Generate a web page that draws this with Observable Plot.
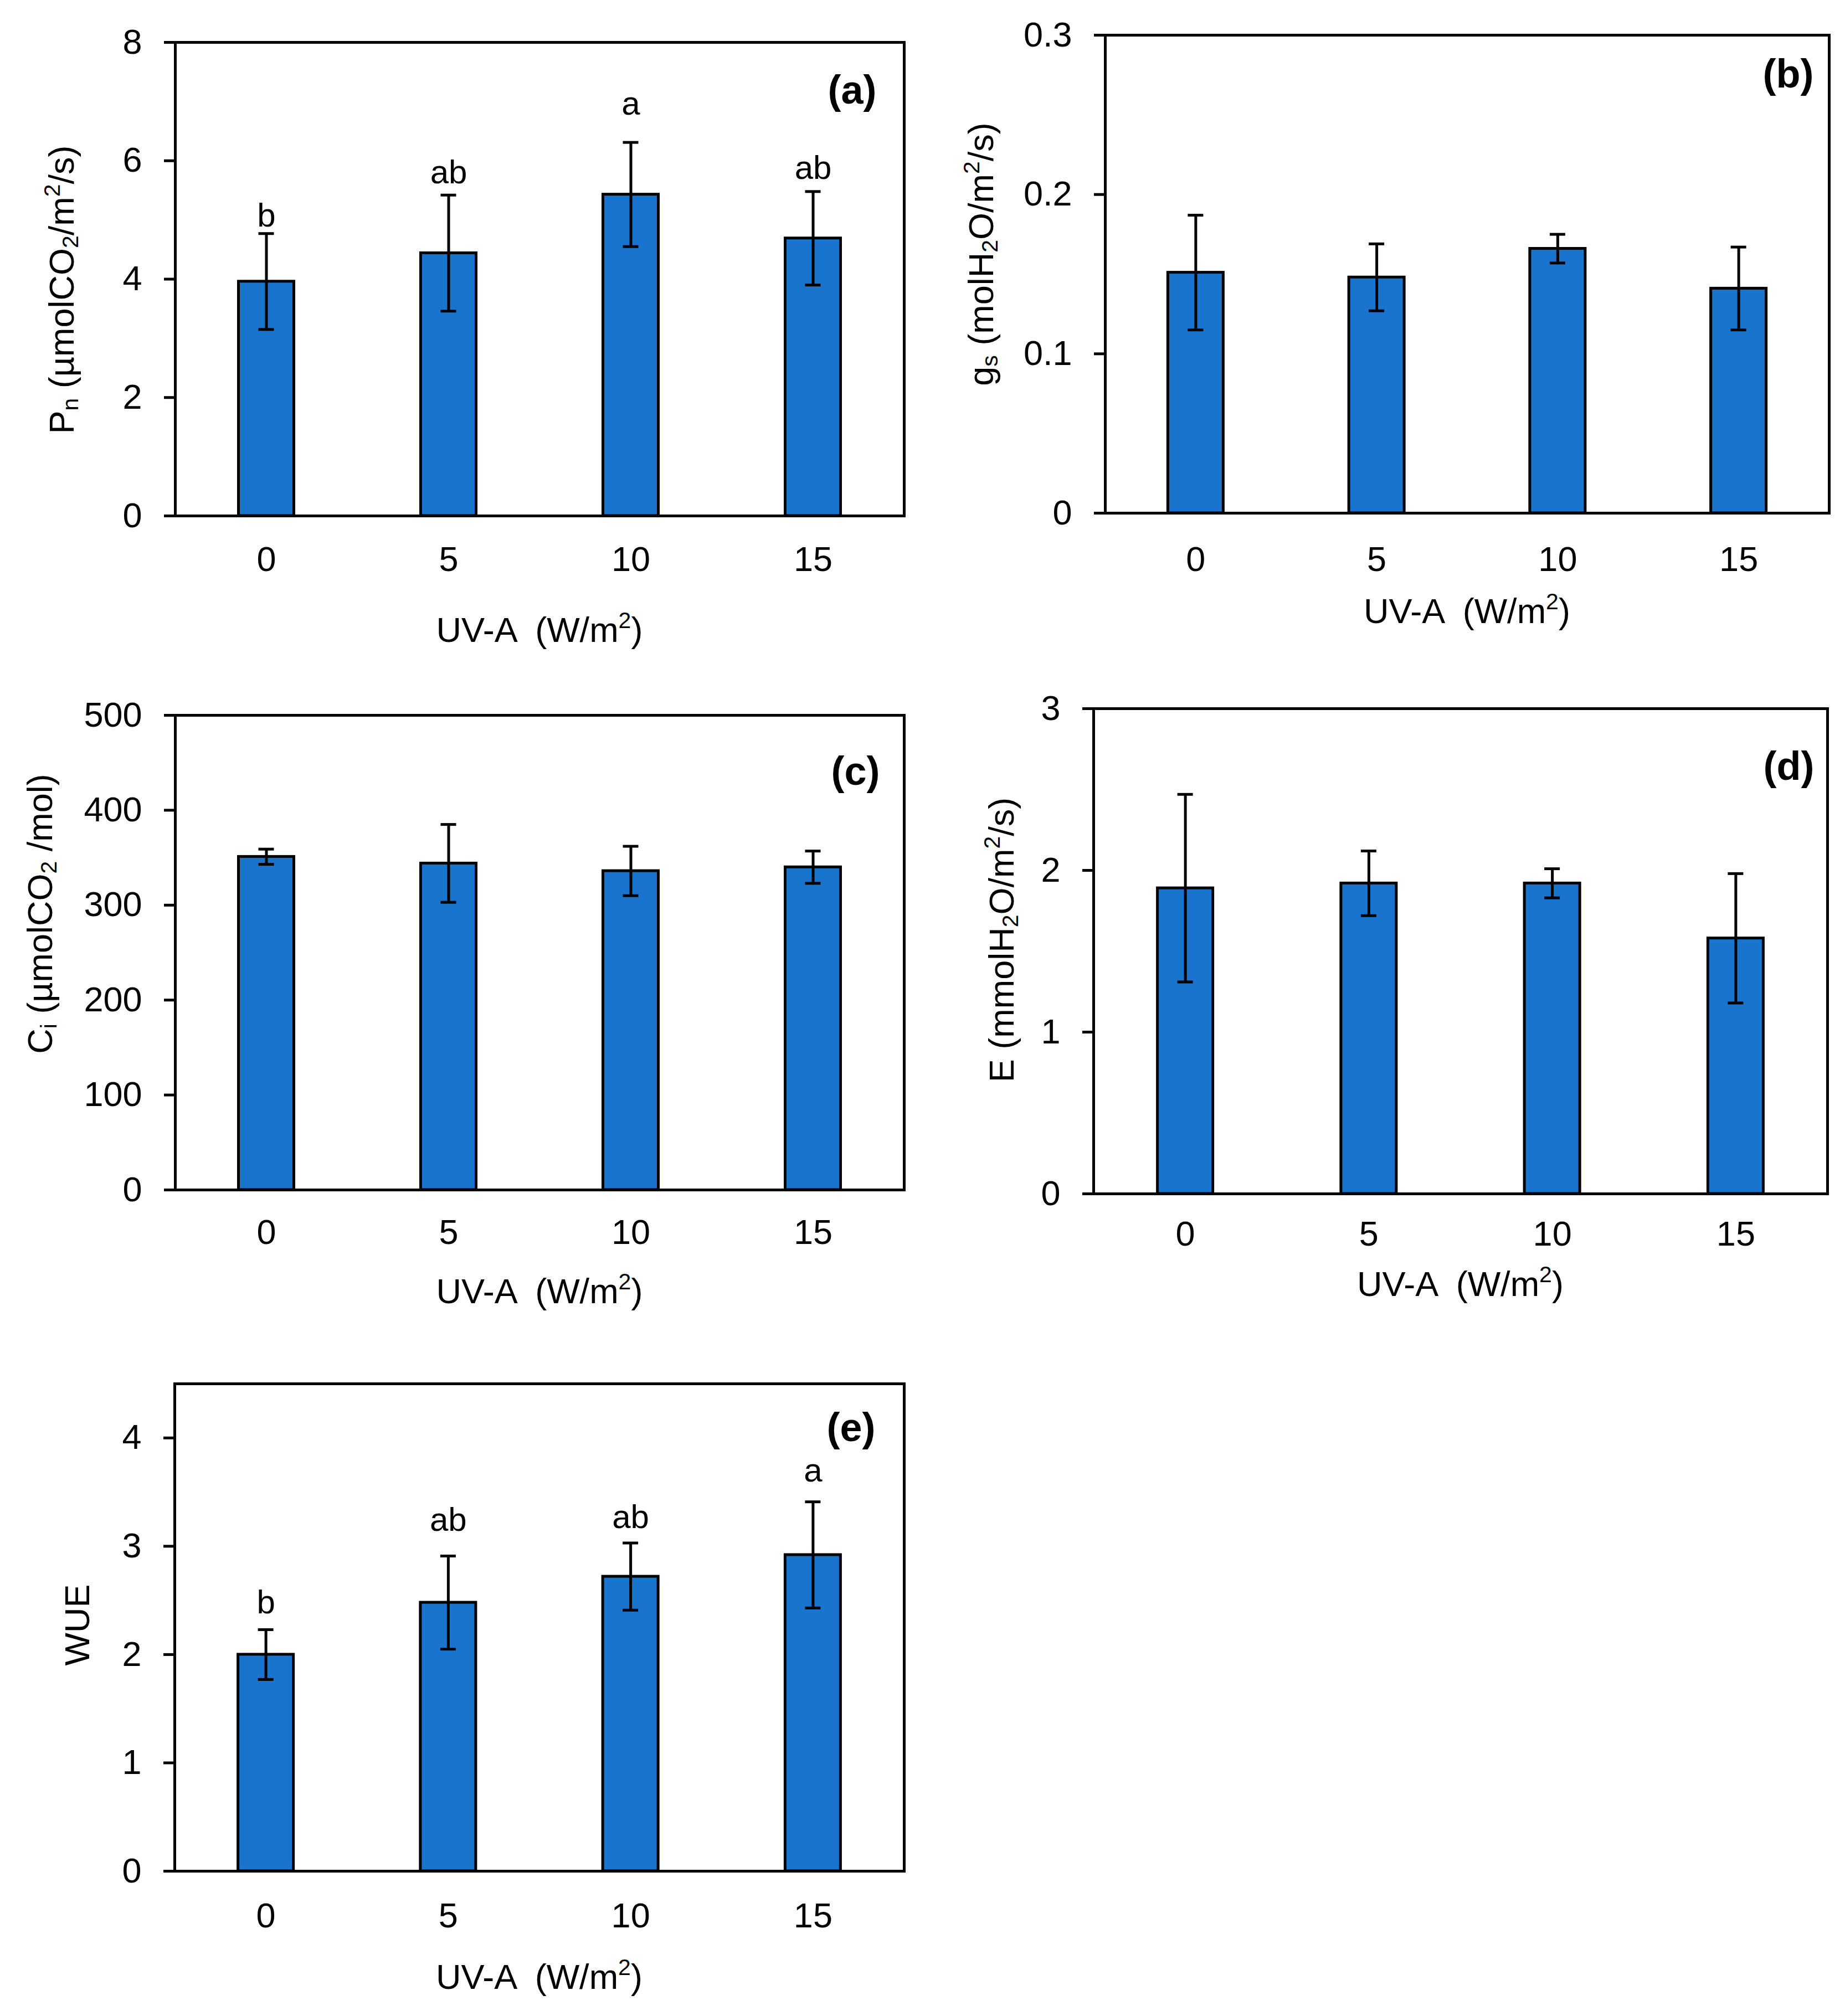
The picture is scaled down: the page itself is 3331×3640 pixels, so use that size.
<!DOCTYPE html>
<html>
<head>
<meta charset="utf-8">
<script src="https://cdn.jsdelivr.net/npm/d3@7"></script>
<script src="https://cdn.jsdelivr.net/npm/@observablehq/plot@0.6"></script>
<style>
  html, body { margin: 0; padding: 0; background: #ffffff; }
  #root { position: relative; width: 3331px; height: 3640px; background: #ffffff; overflow: hidden; }
</style>
</head>
<body>
<div id="root"></div>
<script>
// ---------------- data ----------------
const uvaLevels = ["0", "5", "10", "15"];

const pnMean = [3.96, 4.44, 5.43, 4.69];
const pnErr  = [0.81, 0.98, 0.88, 0.79];
const pnLetters = ["b", "ab", "a", "ab"];
const pnLetterY = [4.89, 5.62, 6.78, 5.69];

const gsMean = [0.151, 0.148, 0.166, 0.141];
const gsErr  = [0.036, 0.021, 0.009, 0.026];

const ciMean = [351, 344, 336, 340];
const ciErr  = [8, 41, 26, 17];

const eMean = [1.89, 1.92, 1.92, 1.58];
const eErr  = [0.58, 0.20, 0.09, 0.40];

const wueMean = [2.00, 2.48, 2.72, 2.92];
const wueErr  = [0.23, 0.43, 0.31, 0.49];
const wueLetters = ["b", "ab", "ab", "a"];
const wueLetterY = [2.38, 3.14, 3.17, 3.60];

const pnTicks  = [0, 2, 4, 6, 8];
const gsTicks  = [0, 0.1, 0.2, 0.3];
const ciTicks  = [0, 100, 200, 300, 400, 500];
const eTicks   = [0, 1, 2, 3];
const wueTicks = [0, 1, 2, 3, 4];

const panelTags = ["(a)", "(b)", "(c)", "(d)", "(e)"];

// axis titles as [text, kind] segments (kind: "" normal, "sub", "sup")
const xTitle   = [["UV-A  (W/m", ""], ["2", "sup"], [")", ""]];
const pnTitle  = [["P", ""], ["n", "sub"], [" (µmolCO", ""], ["2", "sub"], ["/m", ""], ["2", "sup"], ["/s)", ""]];
const gsTitle  = [["g", ""], ["s", "sub"], [" (molH", ""], ["2", "sub"], ["O/m", ""], ["2", "sup"], ["/s)", ""]];
const ciTitle  = [["C", ""], ["i", "sub"], [" (µmolCO", ""], ["2", "sub"], [" /mol)", ""]];
const eTitle   = [["E (mmolH", ""], ["2", "sub"], ["O/m", ""], ["2", "sup"], ["/s)", ""]];
const wueTitle = [["WUE", ""]];

// ---------------- style ----------------
const FONT = "'Liberation Sans', Arial, Helvetica, sans-serif";
const FS = 63;
const BLUE = "#1874CD";
const BAR_W = 100;
const CAP_W = 28;
const SW = 5;

const root = document.getElementById("root");

function richText(sel, segs, size) {
  let cur = 0;
  segs.forEach(([t, k]) => {
    const target = k === "sub" ? 0.13 * size : k === "sup" ? -0.40 * size : 0;
    const ts = sel.append("tspan").text(t).attr("dy", target - cur);
    if (k) ts.attr("font-size", size * 0.65);
    cur = target;
  });
}

function panel(cfg) {
  const ML = 320, MR = 40, MT = 40, MB = 300;
  const fw = cfg.R - cfg.L, fh = cfg.B - cfg.T;
  const step = fw / uvaLevels.length;
  const rows = uvaLevels.map((c, i) => ({cat: c, v: cfg.mean[i], e: cfg.err[i]}));
  const marks = [
    Plot.barY(rows, {x: "cat", y: "v", fill: BLUE, stroke: "black", strokeWidth: SW,
      insetLeft: (step - BAR_W) / 2, insetRight: (step - BAR_W) / 2}),
    Plot.ruleX(rows, {x: "cat", y1: d => d.v - d.e, y2: d => d.v + d.e, stroke: "black", strokeWidth: SW}),
    Plot.tickY(rows, {x: "cat", y: d => d.v + d.e, stroke: "black", strokeWidth: SW,
      insetLeft: (step - CAP_W) / 2, insetRight: (step - CAP_W) / 2}),
    Plot.tickY(rows, {x: "cat", y: d => d.v - d.e, stroke: "black", strokeWidth: SW,
      insetLeft: (step - CAP_W) / 2, insetRight: (step - CAP_W) / 2})
  ];
  if (cfg.letters) {
    const lrows = uvaLevels.map((c, i) => ({cat: c, t: cfg.letters[i], y: cfg.letterY[i]}));
    marks.push(Plot.text(lrows, {x: "cat", y: "y", text: "t", fontSize: 60, fill: "black",
      lineAnchor: "middle", dy: -0.32 * 60}));
  }
  marks.push(
    Plot.text([cfg.tag], {frameAnchor: "top-right", text: d => d, fontWeight: "bold", fontSize: 72,
      fill: "black", textAnchor: "end", lineAnchor: "middle", dx: -cfg.tagRight, dy: cfg.tagBase - 0.32 * 72}),
    Plot.axisY({ticks: cfg.ticks, tickFormat: d => String(d), tickSize: 20, tickPadding: 40,
      strokeWidth: SW, label: null, fontSize: FS}),
    Plot.axisX({tickSize: 0, tickPadding: cfg.xPad, label: null, fontSize: FS}),
    Plot.frame({stroke: "black", strokeWidth: SW})
  );
  const plot = Plot.plot({
    width: fw + ML + MR, height: fh + MT + MB,
    marginLeft: ML, marginRight: MR, marginTop: MT, marginBottom: MB,
    style: {fontFamily: FONT, fontSize: FS + "px", color: "black", background: "transparent", overflow: "visible"},
    x: {type: "band", domain: uvaLevels, padding: 0, round: false},
    y: {domain: cfg.domain},
    marks
  });
  plot.style.position = "absolute";
  plot.style.left = (cfg.L - ML) + "px";
  plot.style.top = (cfg.T - MT) + "px";

  const svg = d3.select(plot);
  // y-axis title
  const yt = svg.append("text")
    .attr("transform", `translate(${cfg.yTitleX - (cfg.L - ML)},${cfg.yTitleY - (cfg.T - MT)}) rotate(-90)`)
    .attr("text-anchor", "middle")
    .attr("font-family", FONT).attr("font-size", FS).attr("fill", "black")
    .style("white-space", "pre");
  richText(yt, cfg.yTitle, FS);
  // x-axis title
  const xt = svg.append("text")
    .attr("x", ML + fw / 2)
    .attr("y", MT + fh + cfg.xTitleOff + 23)
    .attr("text-anchor", "middle")
    .attr("font-family", FONT).attr("font-size", FS).attr("fill", "black")
    .style("white-space", "pre");
  richText(xt, xTitle, FS);

  root.appendChild(plot);
}

panel({L: 316, R: 1632, T: 76, B: 931, mean: pnMean, err: pnErr, domain: [0, 8], ticks: pnTicks,
  letters: pnLetters, letterY: pnLetterY, tag: panelTags[0], tagRight: 50, tagBase: 110,
  xPad: 55, xTitleOff: 205, yTitle: pnTitle, yTitleX: 133, yTitleY: 523});

panel({L: 1995, R: 3302, T: 63, B: 926, mean: gsMean, err: gsErr, domain: [0, 0.3], ticks: gsTicks,
  tag: panelTags[1], tagRight: 28, tagBase: 94,
  xPad: 60, xTitleOff: 176, yTitle: gsTitle, yTitleX: 1793, yTitleY: 459});

panel({L: 316, R: 1632, T: 1291, B: 2148, mean: ciMean, err: ciErr, domain: [0, 500], ticks: ciTicks,
  tag: panelTags[2], tagRight: 44, tagBase: 125,
  xPad: 53, xTitleOff: 182, yTitle: ciTitle, yTitleX: 94, yTitleY: 1650});

panel({L: 1974, R: 3299, T: 1279, B: 2155, mean: eMean, err: eErr, domain: [0, 3], ticks: eTicks,
  tag: panelTags[3], tagRight: 24, tagBase: 128,
  xPad: 49, xTitleOff: 162, yTitle: eTitle, yTitleX: 1830, yTitleY: 1697});

panel({L: 315, R: 1632, T: 2498, B: 3378, mean: wueMean, err: wueErr, domain: [0, 4.5], ticks: wueTicks,
  letters: wueLetters, letterY: wueLetterY, tag: panelTags[4], tagRight: 52, tagBase: 103,
  xPad: 57, xTitleOff: 190, yTitle: wueTitle, yTitleX: 161, yTitleY: 2934});
</script>
</body>
</html>
